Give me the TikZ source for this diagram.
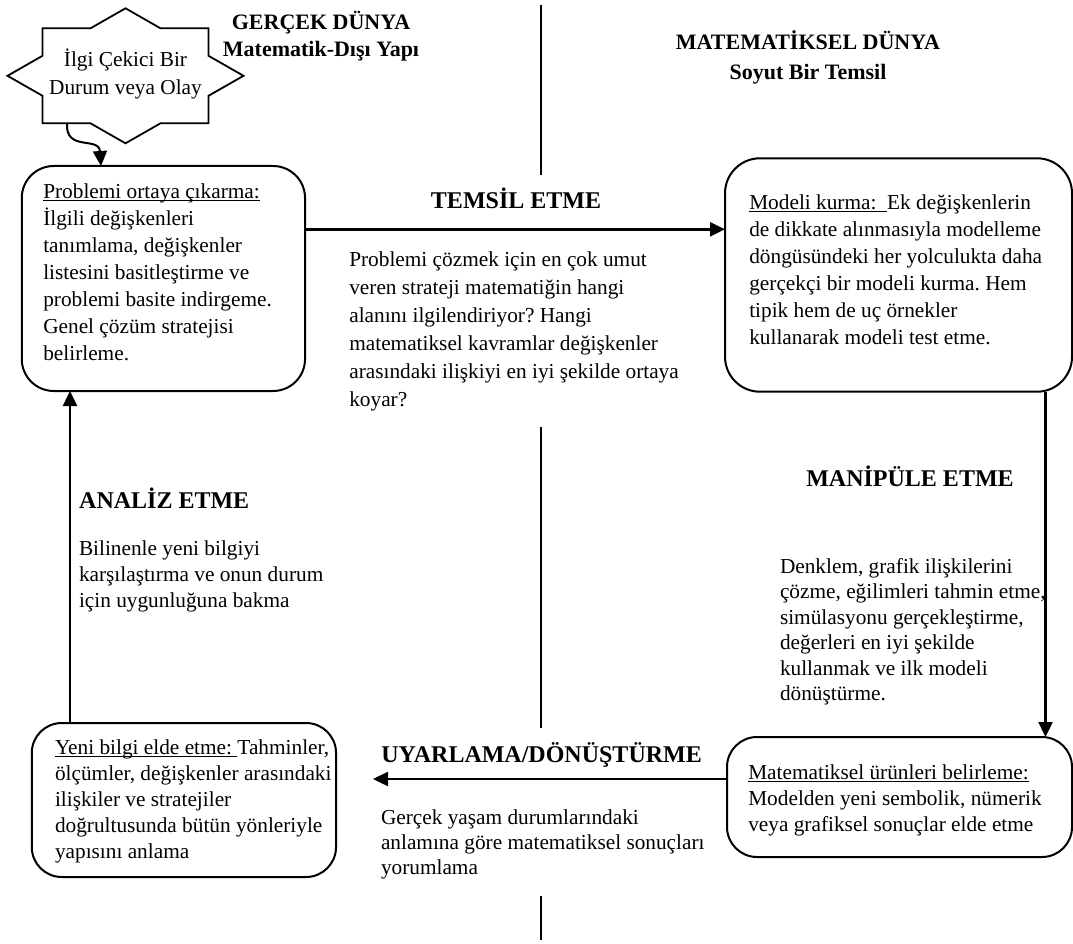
\documentclass[tikz,border=0pt]{standalone}
\usepackage{fontspec}
\setmainfont{Liberation Serif}
\usetikzlibrary{arrows.meta}
\frenchspacing
% underline sitting just below the baseline, through the descenders
\newcommand\undl[1]{\setbox0\hbox{#1}\rlap{\rule[-2.8pt]{\wd0}{1.2pt}}\box0}
\newcommand\topgap{\rule{0pt}{20pt}}
\begin{document}
\begin{tikzpicture}[x=1pt,y=-1pt,
  panel/.style={draw, line width=2pt, rounded corners=32pt, inner sep=0pt, outer sep=0pt},
  body/.style={inner sep=0pt, outer sep=0pt, anchor=north west, align=left},
  head/.style={inner sep=0pt, anchor=base, font=\fontsize{24}{28}\selectfont\bfseries},
  worldhead/.style={inner sep=0pt, anchor=base, font=\fontsize{22}{26}\selectfont\bfseries},
  flow/.style={line width=2.4pt, -{Triangle[length=15pt,width=14pt]}},
  divider/.style={line width=2pt}]
\useasboundingbox (0,0) rectangle (1073,944);

% column headings
\node[worldhead] (realA) at (321,30) {GERÇEK DÜNYA};
\node[worldhead] (realB) at (321,57) {Matematik-Dışı Yapı};
\node[worldhead] (mathA) at (808,50) {MATEMATİKSEL DÜNYA};
\node[worldhead] (mathB) at (808,80) {Soyut Bir Temsil};

% dividing line between the two worlds
\draw[divider] (541,5) -- (541,175);
\draw[divider] (541,427) -- (541,728);
\draw[divider] (541,896) -- (541,940);

% starting event: square and diamond joined into an eight-point star
\draw[line width=1.8pt, line join=miter]
  (125.5,8.3) -- (160.5,28.3) -- (208.5,28.3) -- (208.5,55.8) -- (243.5,75.8)
  -- (208.5,95.8) -- (208.5,123.3) -- (160.5,123.3) -- (125.5,143.3)
  -- (90.5,123.3) -- (42.5,123.3) -- (42.5,95.8) -- (7.5,75.8)
  -- (42.5,55.8) -- (42.5,28.3) -- (90.5,28.3) -- cycle;
\node[inner sep=0pt, anchor=north, align=center, font=\fontsize{21.3}{27.7}\selectfont]
  (event) at (125.5,46.7) {\topgap İlgi Çekici Bir\\Durum veya Olay};

% the four stages
\node[panel, minimum width=283.3pt, minimum height=225pt] (pose) at (163.4,278.5) {};
\node[panel, rounded corners=35pt, minimum width=347pt, minimum height=233.4pt] (build) at (898.5,275) {};
\node[panel, rounded corners=30pt, minimum width=345pt, minimum height=120pt] (result) at (899.5,797) {};
\node[panel, rounded corners=30pt, minimum width=304.3pt, minimum height=154pt] (learn) at (183.9,800) {};

\node[body, font=\fontsize{21.3}{27}\selectfont] (poseT) at (43.3,178) {\topgap\undl{Problemi ortaya çıkarma:}\\
İlgili değişkenleri\\
tanımlama, değişkenler\\
listesini basitleştirme ve\\
problemi basite indirgeme.\\
Genel çözüm stratejisi\\
belirleme.};

\node[body, font=\fontsize{21.3}{27}\selectfont] (buildT) at (749.3,189) {\topgap\undl{Modeli kurma:\ \ }Ek değişkenlerin\\
de dikkate alınmasıyla modelleme\\
döngüsündeki her yolculukta daha\\
gerçekçi bir modeli kurma. Hem\\
tipik hem de uç örnekler\\
kullanarak modeli test etme.};

\node[body, font=\fontsize{21.3}{26}\selectfont] (resultT) at (748.3,759) {\topgap\undl{Matematiksel ürünleri belirleme:}\\
Modelden yeni sembolik, nümerik\\
veya grafiksel sonuçlar elde etme};

\node[body, font=\fontsize{21.3}{26}\selectfont] (learnT) at (55,734) {\topgap\undl{Yeni bilgi elde etme:\ }Tahminler,\\
ölçümler, değişkenler arasındaki\\
ilişkiler ve stratejiler\\
doğrultusunda bütün yönleriyle\\
yapısını anlama};

% transitions between the stages
\node[head] (represent) at (516,208) {TEMSİL ETME};
\node[body, font=\fontsize{21.3}{28}\selectfont] (representT) at (349.3,246) {\topgap Problemi çözmek için en çok umut\\
veren strateji matematiğin hangi\\
alanını ilgilendiriyor? Hangi\\
matematiksel kavramlar değişkenler\\
arasındaki ilişkiyi en iyi şekilde ortaya\\
koyar?};

\node[head] (manip) at (910,486) {MANİPÜLE ETME};
\node[body, font=\fontsize{21.3}{25.5}\selectfont] (manipT) at (780,553) {\topgap Denklem, grafik ilişkilerini\\
çözme, eğilimleri tahmin etme,\\
simülasyonu gerçekleştirme,\\
değerleri en iyi şekilde\\
kullanmak ve ilk modeli\\
dönüştürme.};

\node[head] (adapt) at (541.6,762) {UYARLAMA/DÖNÜŞTÜRME};
\node[body, font=\fontsize{21.3}{25}\selectfont] (adaptT) at (381,804) {\topgap Gerçek yaşam durumlarındaki\\
anlamına göre matematiksel sonuçları\\
yorumlama};

\node[head, anchor=base west] (analyse) at (79,508) {ANALİZ ETME};
\node[body, font=\fontsize{21.3}{26}\selectfont] (analyseT) at (79,535) {\topgap Bilinenle yeni bilgiyi\\
karşılaştırma ve onun durum\\
için uygunluğuna bakma};

% connectors
\coordinate (starfoot) at (67,123);
\coordinate (dropx) at (101,0);
\coordinate (topY) at (0,229.3);
\coordinate (rightX) at (1045.5,0);
\coordinate (bottomY) at (0,779);
\coordinate (adaptTip) at (373,779);
\coordinate (leftX) at (70,0);

\draw[flow, line width=2pt] (starfoot) .. controls (65,152) and (99,136) .. (pose.north -| dropx);
\draw[flow] (pose.east |- topY) -- (build.west |- topY);
\draw[flow] (build.south -| rightX) -- (result.north -| rightX);
\draw[flow] (result.west |- bottomY) -- (adaptTip);
\draw[flow] (learn.north -| leftX) -- (pose.south -| leftX);
\end{tikzpicture}
\end{document}
